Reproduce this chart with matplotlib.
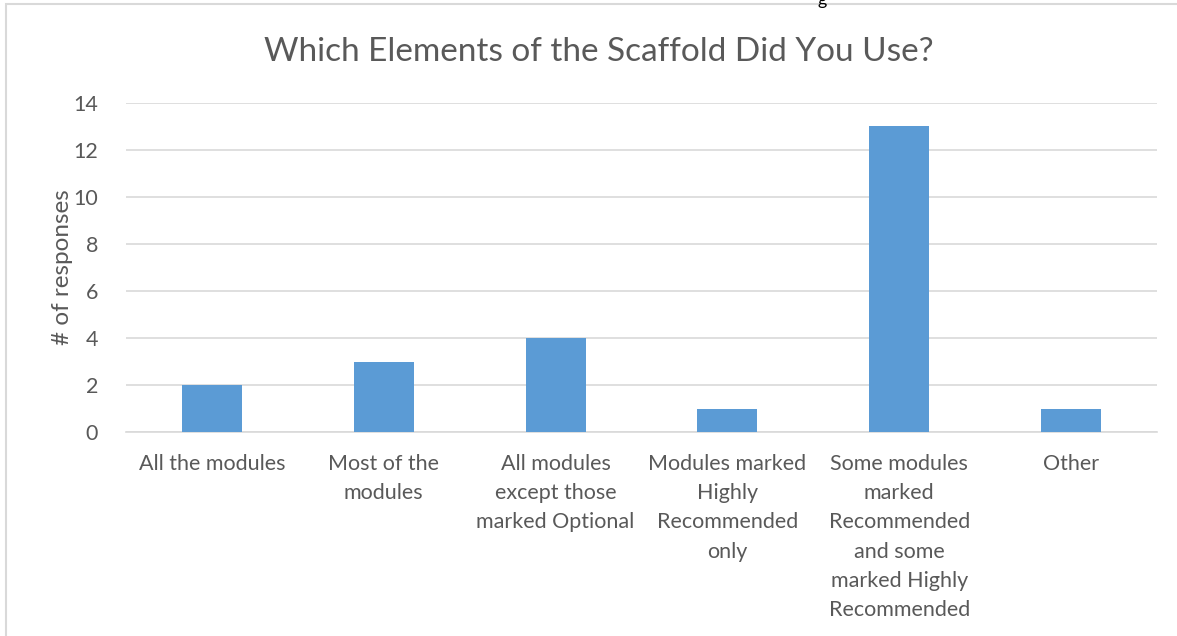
import matplotlib
matplotlib.use("Agg")
import matplotlib.pyplot as plt
from matplotlib.patches import Rectangle

# datos del grafico
categorias = ["All the modules",
              "Most of the\nmodules",
              "All modules\nexcept those\nmarked Optional",
              "Modules marked\nHighly\nRecommended\nonly",
              "Some modules\nmarked\nRecommended\nand some\nmarked Highly\nRecommended",
              "Other"]
respuestas = [2, 3, 4, 1, 13, 1]
ticks_y = [0, 2, 4, 6, 8, 10, 12, 14]

plt.rcParams['font.family'] = ['Lato', 'DejaVu Sans']
gris = '#595959'

fig = plt.figure(figsize=(11.77, 6.36), dpi=100)
ax = fig.add_axes([126/1177, 1-432/636, 1031/1177, 329/636])

x = range(len(categorias))
ax.bar(x, respuestas, width=0.35, color='#5B9BD5', zorder=3)
ax.set_xlim(-0.5, len(categorias)-0.5)
ax.set_ylim(0, 14)
ax.set_yticks(ticks_y)
ax.set_xticks(list(x))
ax.set_xticklabels(categorias, fontsize=15.5, color=gris, linespacing=1.57, va='top')
ax.tick_params(axis='y', labelsize=15.5, labelcolor=gris, length=0, pad=20)
ax.tick_params(axis='x', length=0, pad=16)
ax.grid(axis='y', color='#D9D9D9', linewidth=1.2, zorder=0)
for s in ['top', 'right', 'left']:
    ax.spines[s].set_visible(False)
ax.spines['bottom'].set_color('#D9D9D9')
ax.spines['bottom'].set_linewidth(1.2)
ax.set_ylabel('# of responses', fontsize=17.5, color=gris, labelpad=0)

fig.text(599/1177, 1-52/636, 'Which Elements of the Scaffold Did You Use?',
         fontsize=24, color=gris, ha='center', va='center')

# borde del area del grafico
fig.patches.append(Rectangle((6/1177, -0.01), 1.1, 1-4/636+0.01, transform=fig.transFigure,
                             fill=False, edgecolor='#D9D9D9', linewidth=1.5))
fig.text(822/1177, 1.0, 'g', fontsize=13, color='black', ha='center', va='center')

fig.savefig('out.png', dpi=100)
